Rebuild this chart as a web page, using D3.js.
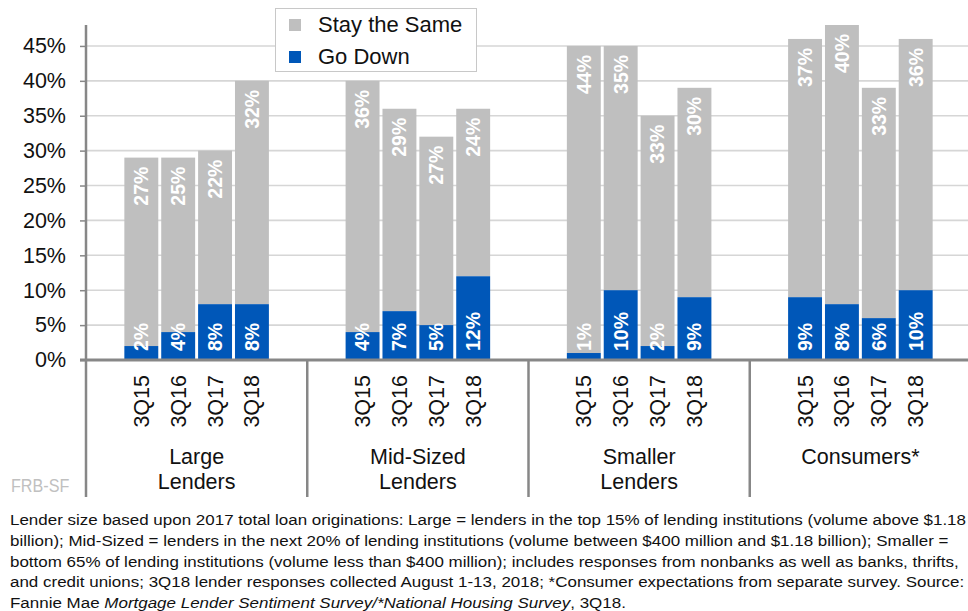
<!DOCTYPE html>
<html>
<head>
<meta charset="utf-8">
<script src="https://cdn.jsdelivr.net/npm/d3@7"></script>
<style>
  html, body { margin: 0; padding: 0; background: #fff; }
  svg { display: block; font-family: "Liberation Sans", Arial, sans-serif; }
</style>
</head>
<body>
<svg id="chart" width="968" height="611"></svg>
<script>
// Survey groups and the quarters surveyed in each
const groups = [["Large", "Lenders"], ["Mid-Sized", "Lenders"], ["Smaller", "Lenders"], ["Consumers*"]];
const quarters = ["3Q15", "3Q16", "3Q17", "3Q18"];

// Share of respondents (%), one row per group, one column per quarter
const goDown = [
  [2, 4, 8, 8],
  [4, 7, 5, 12],
  [1, 10, 2, 9],
  [9, 8, 6, 10]
];
const staySame = [
  [27, 25, 22, 32],
  [36, 29, 27, 24],
  [44, 35, 33, 30],
  [37, 40, 33, 36]
];

const yTicks = [0, 5, 10, 15, 20, 25, 30, 35, 40, 45];
const yMax = 48;

const seriesNames = ["Stay the Same", "Go Down"];
const colors = { stay: "#bfbfbf", down: "#0057b8" };

const footnote = [
  [{ t: "Lender size based upon 2017 total loan originations: Large = lenders in the top 15% of lending institutions (volume above $1.18" }],
  [{ t: "billion); Mid-Sized = lenders in the next 20% of lending institutions (volume between $400 million and $1.18 billion); Smaller =" }],
  [{ t: "bottom 65% of lending institutions (volume less than $400 million); includes responses from nonbanks as well as banks, thrifts," }],
  [{ t: "and credit unions; 3Q18 lender responses collected August 1-13, 2018; *Consumer expectations from separate survey. Source:" }],
  [{ t: "Fannie Mae " }, { t: "Mortgage Lender Sentiment Survey/*National Housing Survey", i: true }, { t: ", 3Q18." }]
];

const svg = d3.select("#chart");
const axisColor = "#878787";

const plot = { left: 86, right: 971, top: 25, bottom: 360, footer: 497 };

const y = d3.scaleLinear().domain([0, yMax]).range([plot.bottom, plot.top]);

const gx = d3.scaleBand()
  .domain(d3.range(groups.length))
  .range([plot.left, plot.right]);

// one empty slot on each side of every group's four bars
const qx = d3.scaleBand()
  .domain(quarters)
  .range([0, gx.bandwidth()])
  .paddingInner(0.08)
  .paddingOuter(1.04);

// gridlines
svg.append("g")
  .selectAll("line")
  .data(yTicks.filter(d => d > 0))
  .join("line")
  .attr("x1", plot.left).attr("x2", 968)
  .attr("y1", d => y(d)).attr("y2", d => y(d))
  .attr("stroke", "#d6d6d6").attr("stroke-width", 1.6);

// bars
const rows = [];
groups.forEach((g, gi) => {
  quarters.forEach((q, qi) => {
    rows.push({ gi, q, down: goDown[gi][qi], stay: staySame[gi][qi] });
  });
});

const barG = svg.append("g");
const bx = d => gx(d.gi) + qx(d.q);

barG.selectAll("rect.stay")
  .data(rows).join("rect")
  .attr("class", "stay")
  .attr("x", bx)
  .attr("width", qx.bandwidth())
  .attr("y", d => y(d.down + d.stay))
  .attr("height", d => y(d.down) - y(d.down + d.stay))
  .attr("fill", colors.stay);

barG.selectAll("rect.down")
  .data(rows).join("rect")
  .attr("class", "down")
  .attr("x", bx)
  .attr("width", qx.bandwidth())
  .attr("y", d => y(d.down))
  .attr("height", d => y(0) - y(d.down))
  .attr("fill", colors.down);

// value labels, rotated
const labelStyle = sel => sel
  .attr("fill", "#fff")
  .attr("font-weight", "bold")
  .attr("font-size", 19.5)
  .attr("dy", "0.35em");

barG.selectAll("text.down")
  .data(rows).join("text")
  .attr("class", "down")
  .attr("transform", d => `translate(${bx(d) + qx.bandwidth() / 2},${y(0) - 9}) rotate(-90)`)
  .attr("text-anchor", "start")
  .call(labelStyle)
  .text(d => d.down + "%");

barG.selectAll("text.stay")
  .data(rows).join("text")
  .attr("class", "stay")
  .attr("transform", d => `translate(${bx(d) + qx.bandwidth() / 2},${y(d.down + d.stay) + 9}) rotate(-90)`)
  .attr("text-anchor", "end")
  .call(labelStyle)
  .text(d => d.stay + "%");

// y axis
const yAxis = d3.axisLeft(y)
  .tickValues(yTicks)
  .tickSize(6)
  .tickPadding(14)
  .tickFormat(d => d + "%");

const ya = svg.append("g")
  .attr("transform", `translate(${plot.left},0)`)
  .call(yAxis);
ya.select(".domain").remove();
ya.selectAll(".tick line").attr("stroke", axisColor).attr("stroke-width", 1.5);
ya.selectAll(".tick text")
  .attr("font-size", 21.5)
  .attr("font-family", "Liberation Sans, Arial, sans-serif")
  .attr("fill", "#111");

// left axis line and group separators
svg.append("g")
  .selectAll("line")
  .data(d3.range(groups.length))
  .join("line")
  .attr("x1", d => gx(d)).attr("x2", d => gx(d))
  .attr("y1", d => d === 0 ? plot.top : plot.bottom)
  .attr("y2", plot.footer)
  .attr("stroke", axisColor).attr("stroke-width", 2.5);

// x axis baseline
svg.append("line")
  .attr("x1", plot.left - 6).attr("x2", 968)
  .attr("y1", y(0)).attr("y2", y(0))
  .attr("stroke", axisColor).attr("stroke-width", 3);

// quarter labels
svg.append("g")
  .selectAll("text")
  .data(rows).join("text")
  .attr("transform", d => `translate(${bx(d) + qx.bandwidth() / 2},${plot.bottom + 15}) rotate(-90)`)
  .attr("text-anchor", "end")
  .attr("dy", "0.35em")
  .attr("font-size", 21.5)
  .attr("fill", "#111")
  .text(d => d.q);

// group labels
svg.append("g")
  .selectAll("text")
  .data(groups.map((g, gi) => ({ g, gi })))
  .join("text")
  .attr("x", d => gx(d.gi) + gx.bandwidth() / 2)
  .attr("y", 464)
  .attr("text-anchor", "middle")
  .attr("font-size", 21.5)
  .attr("fill", "#111")
  .selectAll("tspan")
  .data(d => d.g.map((line, li) => ({ line, li, x: gx(d.gi) + gx.bandwidth() / 2 })))
  .join("tspan")
  .attr("x", d => d.x)
  .attr("dy", d => d.li === 0 ? 0 : 25)
  .text(d => d.line);

// legend
const leg = svg.append("g");
leg.append("rect")
  .attr("x", 275.5).attr("y", 8.5).attr("width", 201).attr("height", 63)
  .attr("fill", "#fff").attr("stroke", "#c8c8c8");
[colors.stay, colors.down].forEach((c, i) => {
  leg.append("rect")
    .attr("x", 289).attr("y", 19 + i * 32).attr("width", 12).attr("height", 12)
    .attr("fill", c);
  leg.append("text")
    .attr("x", 318).attr("y", 32 + i * 32)
    .attr("font-size", 22)
    .attr("fill", "#111")
    .text(seriesNames[i]);
});

// source mark, condensed
svg.append("text")
  .attr("transform", "translate(11,492) scale(0.85,1)")
  .attr("font-family", "Liberation Sans Narrow, Arial Narrow, Liberation Sans, sans-serif")
  .attr("font-size", 19)
  .attr("fill", "#c0c0c0")
  .text("FRB-SF");

// footnote, condensed to fit the page width
const fn = svg.append("g");
const fnText = fn.selectAll("text")
  .data(footnote).join("text")
  .attr("x", 0)
  .attr("y", (d, i) => 525 + i * 20.8)
  .attr("font-family", "Liberation Sans Narrow, Arial Narrow, Liberation Sans, sans-serif")
  .attr("font-size", 15.5)
  .attr("fill", "#111");
fnText.selectAll("tspan")
  .data(d => d).join("tspan")
  .attr("font-style", d => d.i ? "italic" : null)
  .text(d => d.t);
const firstLen = fnText.node().getComputedTextLength();
const sx = 956 / firstLen;
fn.attr("transform", `translate(10,0) scale(${sx},1)`);
</script>
</body>
</html>
